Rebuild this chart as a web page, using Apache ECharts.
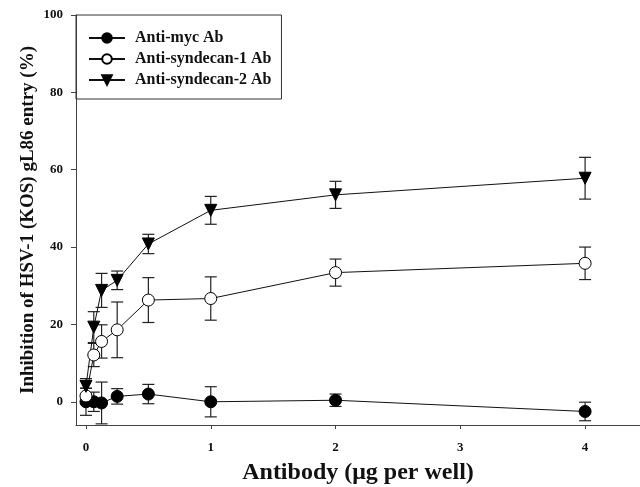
<!DOCTYPE html>
<html>
<head>
<meta charset="utf-8">
<script src="https://cdn.jsdelivr.net/npm/echarts@6/dist/echarts.min.js"></script>
<style>html,body{margin:0;padding:0;background:#fff;overflow:hidden}#c{width:640px;height:487px}</style>
</head>
<body>
<div id="c"></div>
<script>
var doses = [0, 0.0625, 0.125, 0.25, 0.5, 1, 2, 4];
var mycVals = [0, 0, -0.3, 1.4, 2.0, 0, 0.4, -2.5];
var mycErr = [3.5, 2.5, 5.4, 2.0, 2.5, 3.9, 1.6, 2.4];
var syn1Vals = [1.5, 12.1, 15.6, 18.6, 26.3, 26.7, 33.4, 35.8];
var syn1Err = [2.0, 3.0, 4.3, 7.2, 5.8, 5.6, 3.5, 4.2];
var syn2Vals = [4.0, 19.3, 28.8, 31.4, 40.8, 49.5, 53.5, 57.8];
var syn2Err = [2.0, 4.0, 4.4, 2.4, 2.5, 3.6, 3.5, 5.4];
var yTicks = [0, 20, 40, 60, 80, 100];
var xTicks = [0, 1, 2, 3, 4];
var seriesNames = ['Anti-myc Ab', 'Anti-syndecan-1 Ab', 'Anti-syndecan-2 Ab'];

function pts(vals) { return doses.map(function (d, i) { return [d, vals[i]]; }); }
function errs(vals, e) { return doses.map(function (d, i) { return [d, vals[i] - e[i], vals[i] + e[i]]; }); }

function errSeries(data) {
  return {
    type: 'custom',
    z: 1,
    silent: true,
    data: data,
    renderItem: function (params, api) {
      var x = api.value(0);
      var lo = api.coord([x, api.value(1)]);
      var hi = api.coord([x, api.value(2)]);
      var w = 6;
      var st = { stroke: '#222', lineWidth: 1.2 };
      return {
        type: 'group',
        children: [
          { type: 'line', shape: { x1: lo[0], y1: lo[1], x2: hi[0], y2: hi[1] }, style: st },
          { type: 'line', shape: { x1: lo[0] - w, y1: lo[1], x2: lo[0] + w, y2: lo[1] }, style: st },
          { type: 'line', shape: { x1: hi[0] - w, y1: hi[1], x2: hi[0] + w, y2: hi[1] }, style: st }
        ]
      };
    }
  };
}

var font = 'Liberation Serif';
var chart = echarts.init(document.getElementById('c'), null, { renderer: 'canvas' });
chart.setOption({
  animation: false,
  backgroundColor: '#fff',
  grid: { left: 76, right: 0, top: 15, bottom: 62, outerBoundsMode: 'none', containLabel: false },
  legend: {
    data: seriesNames,
    orient: 'vertical',
    left: 76,
    top: 15,
    padding: [14, 10, 10, 12],
    borderColor: '#333',
    borderWidth: 1,
    itemWidth: 36,
    itemHeight: 12,
    itemGap: 3,
    textStyle: { fontFamily: font, fontWeight: 'bold', fontSize: 16, lineHeight: 18, color: '#111', padding: [0, 0, 0, 5] }
  },
  xAxis: {
    type: 'value',
    min: -0.08,
    max: 4.44,
    name: 'Antibody (μg per well)',
    nameLocation: 'middle',
    nameMoveOverlap: false,
    nameGap: 36,
    nameTextStyle: { fontFamily: font, fontWeight: 'bold', fontSize: 24, color: '#111' },
    axisLine: { show: true, onZero: false, lineStyle: { color: '#444', width: 1 } },
    axisTick: { show: true, length: 4, customValues: xTicks, lineStyle: { color: '#444' } },
    axisLabel: { customValues: xTicks, margin: 16, fontFamily: font, fontWeight: 'bold', fontSize: 13, color: '#111' },
    splitLine: { show: false }
  },
  yAxis: {
    type: 'value',
    min: -6,
    max: 100,
    name: 'Inhibition of HSV-1 (KOS) gL86 entry (%)',
    nameLocation: 'middle',
    nameMoveOverlap: false,
    nameGap: 38,
    nameTextStyle: { fontFamily: font, fontWeight: 'bold', fontSize: 19, color: '#111' },
    axisLine: { show: true, onZero: false, lineStyle: { color: '#444', width: 1 } },
    axisTick: { show: true, length: 5, customValues: yTicks, lineStyle: { color: '#444' } },
    axisLabel: { customValues: yTicks, margin: 13, fontFamily: font, fontWeight: 'bold', fontSize: 13, color: '#111' },
    splitLine: { show: false }
  },
  series: [
    errSeries(errs(mycVals, mycErr)),
    errSeries(errs(syn1Vals, syn1Err)),
    errSeries(errs(syn2Vals, syn2Err)),
    {
      name: seriesNames[0], type: 'line', z: 3, data: pts(mycVals),
      symbol: 'circle', symbolSize: 12,
      lineStyle: { color: '#111', width: 1 },
      itemStyle: { color: '#000', borderColor: '#000', borderWidth: 1 }
    },
    {
      name: seriesNames[1], type: 'line', z: 3, data: pts(syn1Vals),
      symbol: 'circle', symbolSize: 12,
      lineStyle: { color: '#111', width: 1 },
      itemStyle: { color: '#fff', borderColor: '#000', borderWidth: 1 }
    },
    {
      name: seriesNames[2], type: 'line', z: 3, data: pts(syn2Vals),
      symbol: 'triangle', symbolRotate: 180, symbolSize: 12,
      lineStyle: { color: '#111', width: 1 },
      itemStyle: { color: '#000', borderColor: '#000', borderWidth: 1 }
    }
  ]
});
</script>
</body>
</html>
